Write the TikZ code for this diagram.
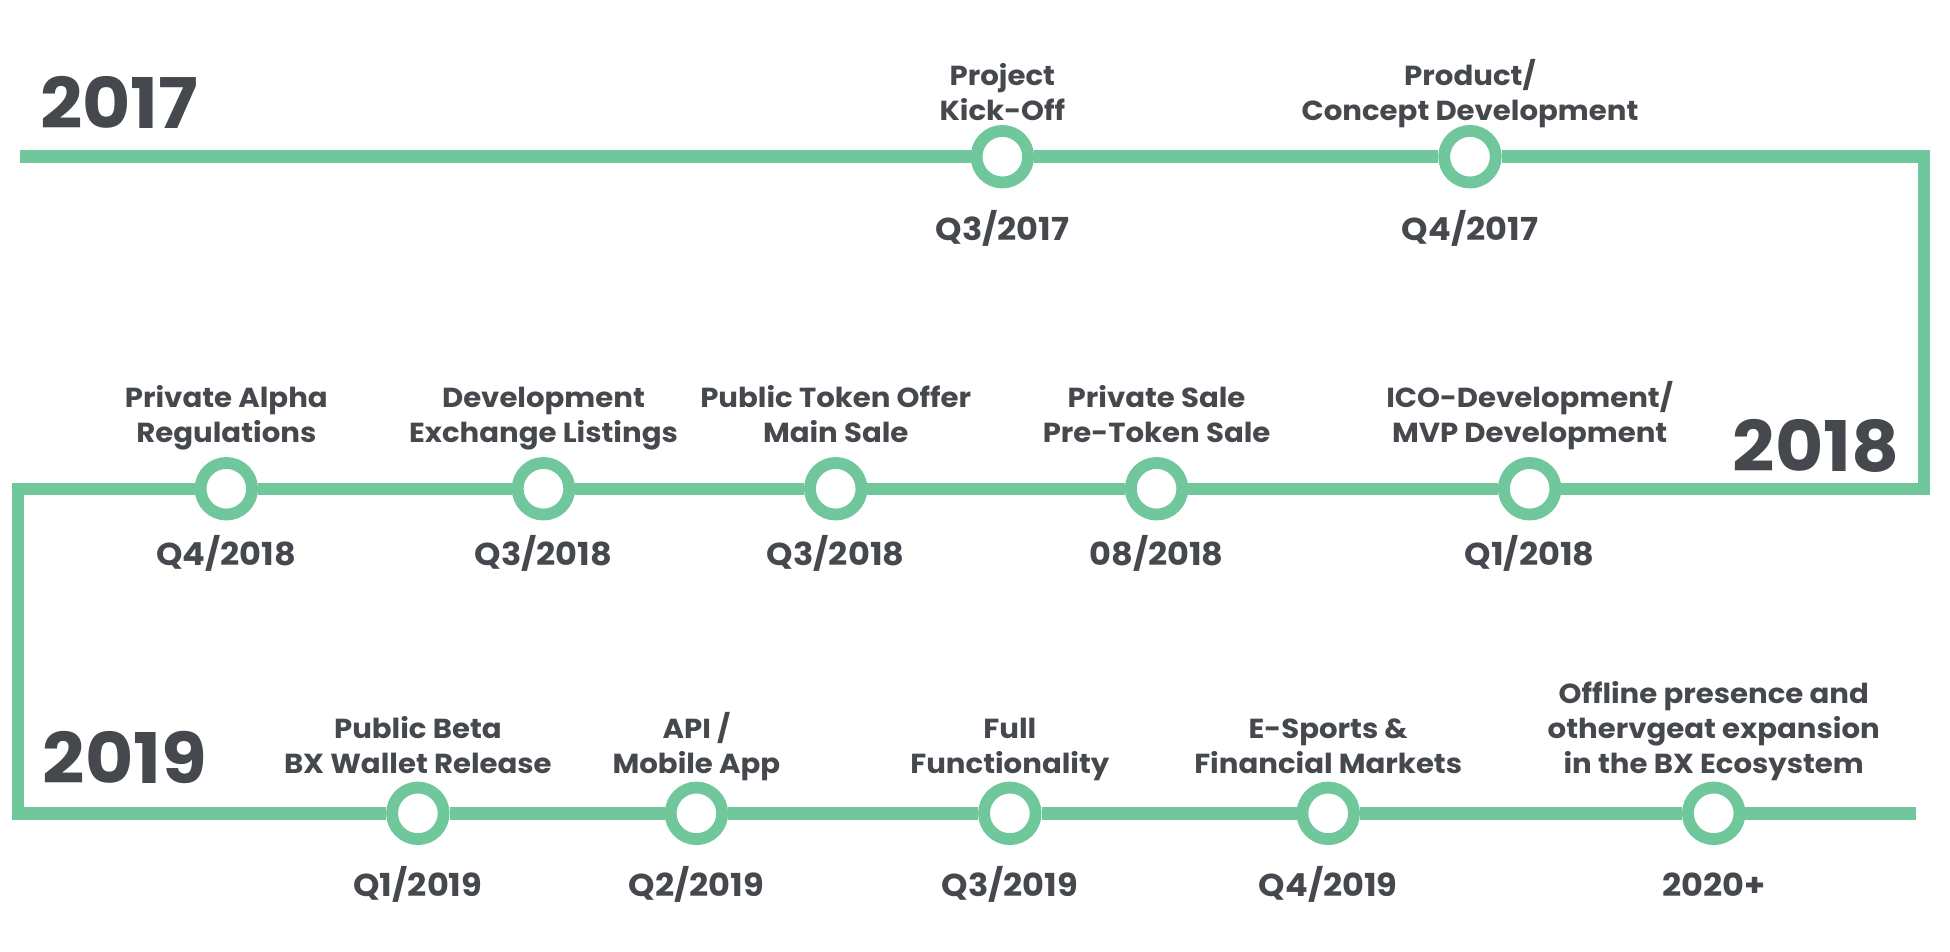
\documentclass[tikz,border=0pt]{standalone}
\usepackage{fontspec}
\setmainfont{Poppins}[FakeStretch = 1.06]
\usepackage{tikz}

\definecolor{trackgreen}{HTML}{6FC79B}
\definecolor{inkgray}{HTML}{45484D}

\begin{document}
\begin{tikzpicture}[
    x = 0.02cm, y = -0.02cm,
    %
    track/.style = {draw = trackgreen,
      line width = 0.2cm,
      line join = miter},
    milestone/.style = {circle, draw = trackgreen, fill = white,
      line width = 0.19cm,
      minimum size = 0.83cm,
      inner sep = 0pt},
    %
    event/.style = {align = center, anchor = south,
      inner sep = 0pt, text depth = 0pt, text = inkgray,
      font = \bfseries\fontsize{12.6}{15.9}\selectfont},
    quarter/.style = {anchor = base,
      inner sep = 0pt, text = inkgray,
      font = \bfseries\fontsize{14.5}{16}\selectfont},
    year/.style = {anchor = base west,
      inner sep = 0pt, text = inkgray,
      font = \bfseries\fontsize{32}{36}\selectfont},
    ]

    \useasboundingbox (0, 0) rectangle (1568, 765);

    \node at (32, 103) [year, name = Y_2017] {2017};
    \node at (1393, 379) [year, name = Y_2018] {2018};
    \node at (34, 630) [year, name = Y_2019] {2019};

    \node at (806, 126) [milestone, name = kickoff] {};
    \node at (1182, 126) [milestone, name = concept] {};

    \node at (1230, 393) [milestone, name = mvp] {};
    \node at (930, 393) [milestone, name = presale] {};
    \node at (672, 393) [milestone, name = mainsale] {};
    \node at (437, 393) [milestone, name = listings] {};
    \node at (182, 393) [milestone, name = alpha] {};

    \node at (336, 654) [milestone, name = beta] {};
    \node at (560, 654) [milestone, name = mobile] {};
    \node at (812, 654) [milestone, name = full] {};
    \node at (1068, 654) [milestone, name = esports] {};
    \node at (1378, 654) [milestone, name = offline] {};

    \coordinate (start) at (16, 126);
    \coordinate (east_top) at (1547, 126);
    \coordinate (east_mid) at (1547, 393);
    \coordinate (west_mid) at (14.5, 393);
    \coordinate (west_low) at (14.5, 654);
    \coordinate (finish) at (1541, 654);

    \draw [track] (start) -- (kickoff) -- (concept) -- (east_top)
    -- (east_mid) -- (mvp) -- (presale) -- (mainsale) -- (listings)
    -- (alpha) -- (west_mid) -- (west_low) -- (beta) -- (mobile)
    -- (full) -- (esports) -- (offline) -- (finish);

    \node at (806, 97) [event, name = kickoff_text] {Project\\Kick-Off};
    \node at (1182, 97) [event, name = concept_text]
    {Product/\\Concept Development};

    \node at (1230, 356) [event, name = mvp_text]
    {ICO-Development/\\MVP Development};
    \node at (930, 356) [event, name = presale_text]
    {Private Sale\\Pre-Token Sale};
    \node at (672, 356) [event, name = mainsale_text]
    {Public Token Offer\\Main Sale};
    \node at (437, 356) [event, name = listings_text]
    {Development\\Exchange Listings};
    \node at (182, 356) [event, name = alpha_text]
    {Private Alpha\\Regulations};

    \node at (336, 622) [event, name = beta_text]
    {Public Beta\\BX Wallet Release};
    \node at (560, 622) [event, name = mobile_text] {API /\\Mobile App};
    \node at (812, 622) [event, name = full_text] {Full\\Functionality};
    \node at (1068, 622) [event, name = esports_text]
    {E-Sports \&\\Financial Markets};
    \node at (1378, 622) [event, name = offline_text]
    {Offline presence and\\othervgeat expansion\\in the BX Ecosystem};

    \node at (806, 193) [quarter, name = kickoff_date] {Q3/2017};
    \node at (1182, 193) [quarter, name = concept_date] {Q4/2017};

    \node at (1230, 455) [quarter, name = mvp_date] {Q1/2018};
    \node at (930, 455) [quarter, name = presale_date] {08/2018};
    \node at (672, 455) [quarter, name = mainsale_date] {Q3/2018};
    \node at (437, 455) [quarter, name = listings_date] {Q3/2018};
    \node at (182, 455) [quarter, name = alpha_date] {Q4/2018};

    \node at (336, 721) [quarter, name = beta_date] {Q1/2019};
    \node at (560, 721) [quarter, name = mobile_date] {Q2/2019};
    \node at (812, 721) [quarter, name = full_date] {Q3/2019};
    \node at (1068, 721) [quarter, name = esports_date] {Q4/2019};
    \node at (1378, 721) [quarter, name = offline_date] {2020+};

  \end{tikzpicture}
\end{document}
